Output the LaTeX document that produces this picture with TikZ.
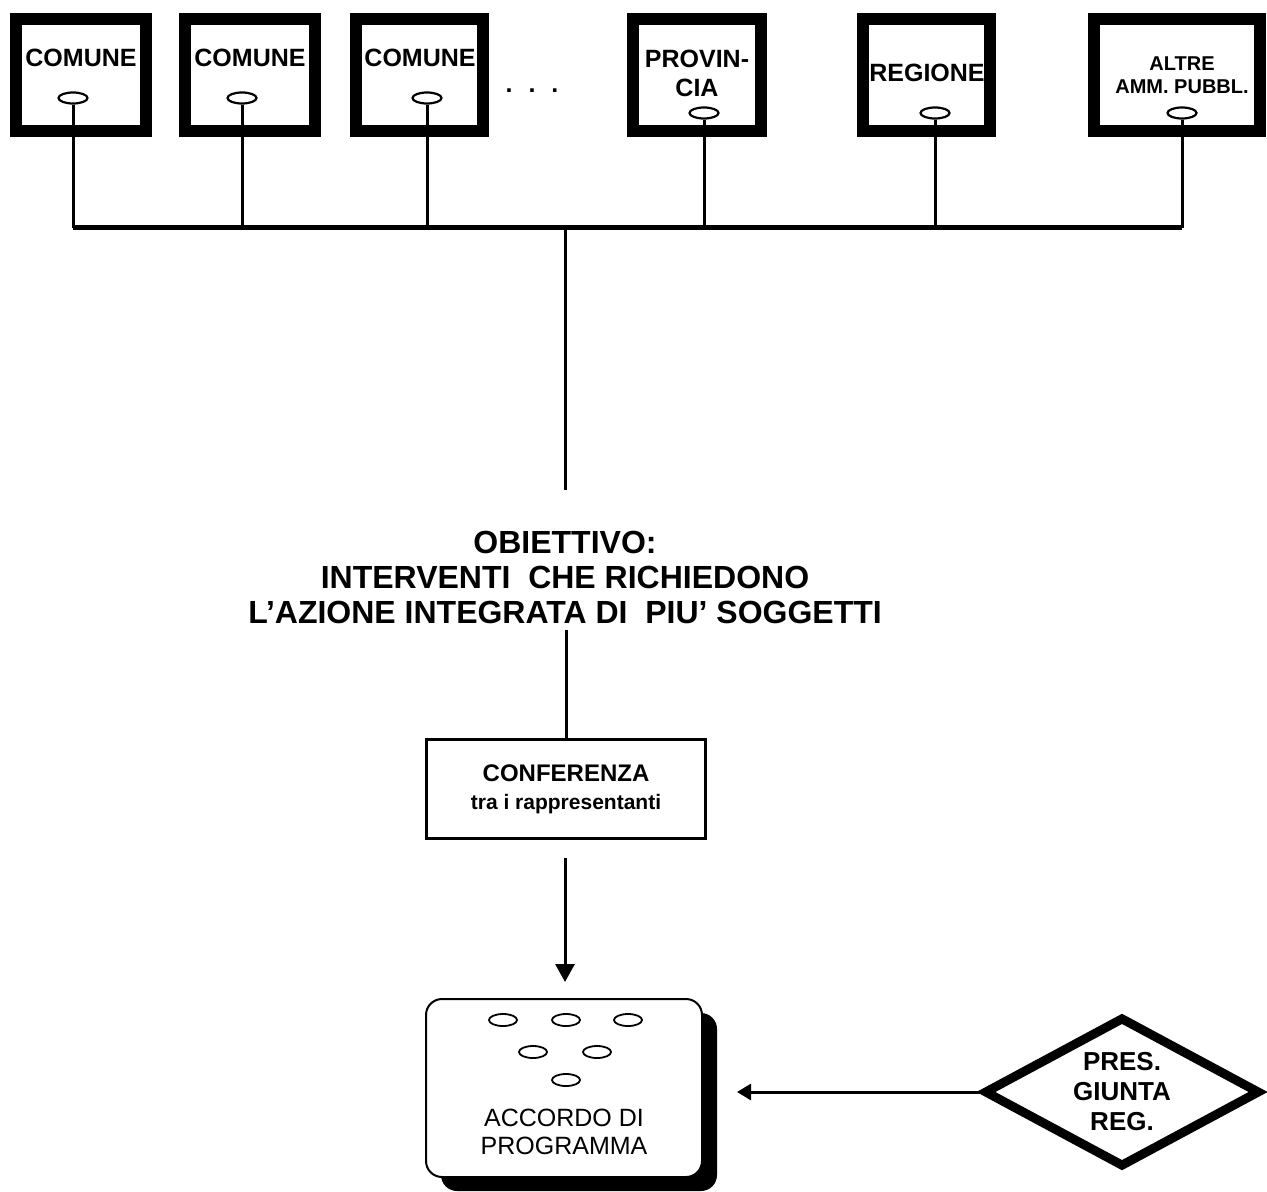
\documentclass[tikz,border=0pt]{standalone}
\usepackage{fontspec}
\setmainfont{Liberation Sans}
\usetikzlibrary{shapes.geometric,arrows.meta,shadows}
\begin{document}
\begin{tikzpicture}[x=0.5pt,y=-0.5pt,
  ente/.style={draw,line width=6pt,minimum width=#1,minimum height=56pt,inner sep=0pt},
  etxt/.style={font=\bfseries\fontsize{12.5pt}{14.5pt}\selectfont,align=center,inner sep=0pt},
  ell/.style={draw,ellipse,line width=1.1pt,minimum width=14.5pt,minimum height=5.5pt,inner sep=0pt},
  sell/.style={draw,ellipse,line width=0.9pt,minimum width=14pt,minimum height=6pt,inner sep=0pt},
  vline/.style={line width=1.5pt},
  bus/.style={line width=2.5pt},
  arr/.style={line width=1.5pt,-{Triangle[length=9pt,width=9.5pt]}},
  larr/.style={line width=1.5pt,-{Triangle[length=7pt,width=8pt]}}]
\useasboundingbox (0,0) rectangle (1267,1192);
\fill[white] (0,0) rectangle (1267,1192);

% top boxes
\node[ente=65pt] (c1) at (81,75) {};
\node[ente=65pt] (c2) at (250,75) {};
\node[ente=63.5pt] (c3) at (419.5,75) {};
\node[ente=64pt] (pv) at (697,75) {};
\node[ente=63.5pt] (rg) at (926.5,75) {};
\node[ente=83pt] (al) at (1177,75) {};

\node[etxt] (t1) at (81,58) {COMUNE};
\node[etxt] (t2) at (250,58) {COMUNE};
\node[etxt] (t3) at (420,58) {COMUNE};
\node[etxt] (tp) at (697,73.5) {PROVIN-\\CIA};
\node[etxt] (tr) at (927,73) {REGIONE};
\node[etxt,font=\bfseries\fontsize{10pt}{11.5pt}\selectfont] (ta) at (1182,75.5) {ALTRE\\AMM. PUBBL.};
\node[etxt] (dots) at (532,91) {.\hspace{8pt}.\hspace{8pt}.};

\node[ell] (e1) at (73,98) {};
\node[ell] (e2) at (242,98) {};
\node[ell] (e3) at (427,98) {};
\node[ell] (e4) at (704,113) {};
\node[ell] (e5) at (935,113) {};
\node[ell] (e6) at (1182,113) {};

\coordinate (b1) at (73,228);
\coordinate (b2) at (242,228);
\coordinate (b3) at (427,228);
\coordinate (b4) at (704,228);
\coordinate (b5) at (935,228);
\coordinate (b6) at (1182,228);
\coordinate (bm) at (565,228);

\foreach \i in {1,...,6} {\draw[vline] (e\i.south) -- (b\i);}
\draw[bus] (b1) -- (b6);

% objective
\node[font=\bfseries\fontsize{16pt}{17.5pt}\selectfont,align=center,inner sep=0pt] (obj) at (565,577)
  {OBIETTIVO:\\INTERVENTI\ \ CHE RICHIEDONO\\L’AZIONE INTEGRATA DI\ \ PIU’ SOGGETTI};
\draw[vline,shorten >=20pt] (bm) -- (obj.north);

% conferenza
\node[draw,line width=1.5pt,minimum width=139.5pt,minimum height=49.5pt,inner sep=0pt,
      font=\bfseries\fontsize{12pt}{14pt}\selectfont,align=center] (conf) at (566,789)
  {CONFERENZA\\{\fontsize{10.5pt}{14pt}\selectfont tra i rappresentanti}};
\draw[vline,shorten <=3pt] (obj.south -| conf.north) -- (conf.north);

% accordo
\node[draw,line width=1pt,rounded corners=8pt,minimum width=138pt,minimum height=89pt,fill=white,
      drop shadow={shadow xshift=7.5pt,shadow yshift=-7pt,fill=black,opacity=1}] (acc) at (564,1088) {};
\draw[arr,shorten <=9pt,shorten >=8pt] (conf.south -| 565,0) -- (acc.north -| 565,0);

\node[sell] (a1) at (503,1020) {};
\node[sell] (a2) at (566,1020) {};
\node[sell] (a3) at (628,1020) {};
\node[sell] (a4) at (533,1052) {};
\node[sell] (a5) at (597,1052) {};
\node[sell] (a6) at (566,1080) {};
\node[font=\fontsize{12.5pt}{14pt}\selectfont,align=center,inner sep=0pt] (acct) at (564,1132)
  {ACCORDO DI\\PROGRAMMA};

% presidente
\node[diamond,draw,line width=4.5pt,line join=miter,aspect=1.84,minimum width=138pt,minimum height=75pt,inner sep=0pt,
      font=\bfseries\fontsize{13pt}{15pt}\selectfont,align=center] (pres) at (1122,1092) {PRES.\\GIUNTA\\REG.};
\draw[larr,shorten >=17pt] (pres.west) -- (pres.west -| acc.east);
\end{tikzpicture}
\end{document}
